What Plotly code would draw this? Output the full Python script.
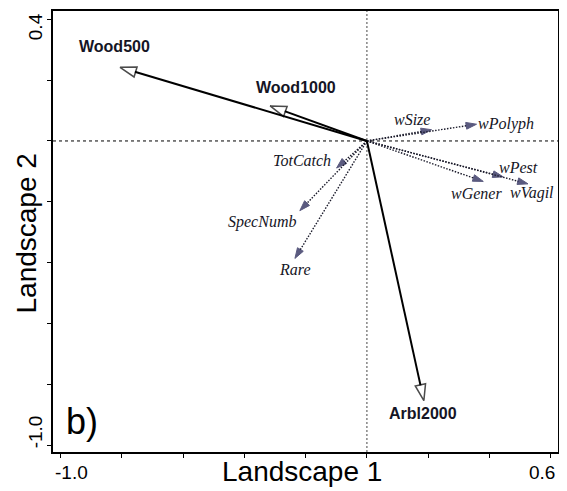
import plotly.graph_objects as go

# ---- data ----
env_names = ["Wood500", "Wood1000", "Arbl2000"]
env_x = [-0.806, -0.316, 0.186]
env_y = [0.242, 0.115, -0.853]

sp_names = ["wSize", "wPolyph", "wPest", "wGener", "wVagil", "TotCatch", "SpecNumb", "Rare"]
sp_x = [0.211, 0.358, 0.445, 0.380, 0.526, -0.099, -0.219, -0.235]
sp_y = [0.037, 0.055, -0.118, -0.133, -0.141, -0.089, -0.229, -0.386]

x_ticks = [-1.0, -0.8, -0.6, -0.4, -0.2, 0.0, 0.2, 0.4, 0.6]
y_ticks = [-1.0, -0.8, -0.6, -0.4, -0.2, 0.0, 0.2, 0.4]
x_tick_labels = ["-1.0", "0.6"]
y_tick_labels = ["-1.0", "0.4"]

# ---- styling (label offsets in px, relative to arrow tips) ----
env_shift = {"Wood500": (-6, 21), "Wood1000": (26, 18), "Arbl2000": (-1, -13)}
sp_shift = {"wSize": (-20, 10), "wPolyph": (29, 0), "wPest": (15, 9), "wGener": (-7, -12),
            "wVagil": (4, -9), "TotCatch": (-35, 8), "SpecNumb": (-38, -11), "Rare": (0, -11)}

SANS = "Arial, Liberation Sans, sans-serif"
SERIF = "Times New Roman, Liberation Serif, serif"

fig = go.Figure()

# reference lines at 0
fig.add_shape(type="line", xref="paper", yref="y", x0=0, x1=1, y0=0, y1=0,
              line=dict(color="black", width=1, dash="3px,3px"), layer="below")
fig.add_shape(type="line", xref="x", yref="paper", x0=0, x1=0, y0=0, y1=1,
              line=dict(color="#666666", width=1.2, dash="2px,2px"), layer="below")

# species (dotted) arrows
for n, x, y in zip(sp_names, sp_x, sp_y):
    fig.add_trace(go.Scatter(
        x=[0, x], y=[0, y], mode="lines+markers",
        line=dict(color="#1a1a2a", width=1.4, dash="1.5px,1.5px"),
        marker=dict(symbol="arrow", size=[0, 11], angleref="previous",
                    color="#15154a", line=dict(color="#15154a", width=1)),
        hoverinfo="skip", showlegend=False))

# environmental (solid) arrows
for n, x, y in zip(env_names, env_x, env_y):
    fig.add_trace(go.Scatter(
        x=[0, x], y=[0, y], mode="lines+markers",
        line=dict(color="black", width=2),
        marker=dict(symbol="arrow", size=[0, 17], angleref="previous",
                    color="white", line=dict(color="black", width=1.5)),
        hoverinfo="skip", showlegend=False))

ann = []
for n, x, y in zip(env_names, env_x, env_y):
    dx, dy = env_shift[n]
    ann.append(dict(x=x, y=y, xref="x", yref="y", text="<b>" + n + "</b>", showarrow=False,
                    xanchor="center", yanchor="middle",
                    xshift=dx, yshift=dy, font=dict(family=SANS, size=16, color="#151525")))
for n, x, y in zip(sp_names, sp_x, sp_y):
    dx, dy = sp_shift[n]
    ann.append(dict(x=x, y=y, xref="x", yref="y", text="<i>" + n + "</i>", showarrow=False,
                    xanchor="center", yanchor="middle",
                    xshift=dx, yshift=dy, font=dict(family=SERIF, size=16, color="#151525")))

# tick labels
tick_font = dict(family=SANS, size=19, color="black")
ann.append(dict(x=x_ticks[0], y=0, xref="x", yref="paper", text=x_tick_labels[0], showarrow=False,
                xanchor="center", yanchor="middle", xshift=11, yshift=-20, font=tick_font))
ann.append(dict(x=x_ticks[-1], y=0, xref="x", yref="paper", text=x_tick_labels[1], showarrow=False,
                xanchor="center", yanchor="middle", xshift=-9, yshift=-20, font=tick_font))
ann.append(dict(x=0, y=y_ticks[0], xref="paper", yref="y", text=y_tick_labels[0], showarrow=False,
                xanchor="center", yanchor="middle",
                textangle=-90, xshift=-18, yshift=13, font=tick_font))
ann.append(dict(x=0, y=y_ticks[-1], xref="paper", yref="y", text=y_tick_labels[1], showarrow=False,
                xanchor="center", yanchor="middle",
                textangle=-90, xshift=-18, yshift=-8, font=tick_font))

# axis titles
ann.append(dict(x=0.5, y=0, xref="paper", yref="paper", text="Landscape 1", showarrow=False,
                xanchor="center", yanchor="middle", xshift=-4, yshift=-19,
                font=dict(family=SANS, size=28, color="black")))
ann.append(dict(x=0, y=0.5, xref="paper", yref="paper", text="Landscape 2", showarrow=False,
                xanchor="center", yanchor="middle",
                textangle=-90, xshift=-27, yshift=-2, font=dict(family=SANS, size=28, color="black")))
# panel label
ann.append(dict(x=0, y=0, xref="paper", yref="paper", text="b)", showarrow=False,
                xanchor="left", yanchor="middle", xshift=11, yshift=31,
                font=dict(family=SANS, size=36, color="black")))

axis_common = dict(showgrid=False, zeroline=False, showline=True, mirror=True,
                   linecolor="black", linewidth=1.5, ticks="outside", ticklen=4,
                   tickcolor="black", tickwidth=1, showticklabels=False)

fig.update_layout(
    width=559, height=483,
    margin=dict(l=45, r=9, t=1, b=39),
    paper_bgcolor="white", plot_bgcolor="white",
    xaxis=dict(range=[-1.025, 0.624], tickvals=x_ticks, **axis_common),
    yaxis=dict(range=[-1.022, 0.427], tickvals=y_ticks, **axis_common),
    annotations=ann,
)

fig.write_html("out.html")
